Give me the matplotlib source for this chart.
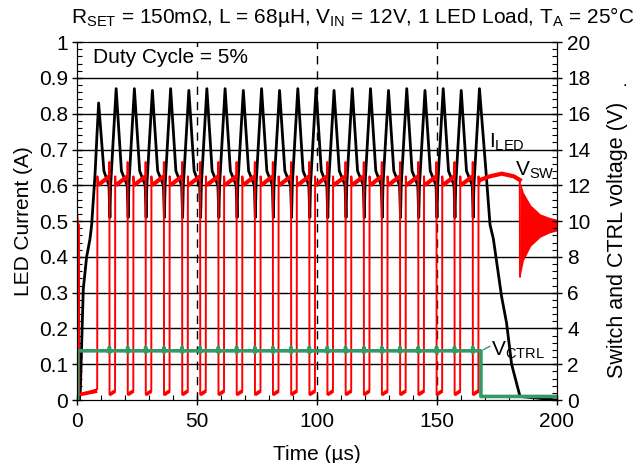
import matplotlib
matplotlib.use("Agg")
import matplotlib.pyplot as plt
from matplotlib.ticker import MultipleLocator, FixedLocator, FixedFormatter

plt.rcParams["font.family"] = ["Liberation Sans", "DejaVu Sans"]
plt.rcParams["mathtext.fontset"] = "custom"
plt.rcParams["mathtext.rm"] = "Liberation Sans"
plt.rcParams["mathtext.it"] = "Liberation Sans:italic"

# switch node edges (µs)
sw_fall = [13.5, 21.1, 28.6, 36.2, 43.8, 51.3, 58.9, 66.5, 74.1, 81.6, 89.2,
           96.8, 104.3, 111.9, 119.5, 127.0, 134.6, 142.2, 149.8, 157.3, 164.9]
sw_rise = [15.9, 23.5, 31.0, 38.6, 46.2, 53.7, 61.3, 68.9, 76.5, 84.0, 91.6,
           99.2, 106.7, 114.3, 121.9, 129.4, 137.0, 144.6, 152.2, 159.7, 167.3]

# LED current (A)
iled_peak = [0.87, 0.87, 0.865, 0.87, 0.865, 0.87, 0.87, 0.865, 0.87, 0.865, 0.87,
             0.87, 0.865, 0.87, 0.87, 0.865, 0.87, 0.865, 0.87, 0.865, 0.87]
iled_start_t = [0.0, 1.0, 1.4, 2.6, 4.0, 5.4, 6.1, 7.5, 8.3, 9.0]
iled_start_v = [0.0, 0.0, 0.03, 0.31, 0.40, 0.45, 0.49, 0.63, 0.74, 0.83]
iled_end_t = [170.4, 172.1, 173.5, 176.9, 179.0, 181.1, 184.6, 200.0]
iled_end_v = [0.64, 0.49, 0.45, 0.29, 0.215, 0.10, 0.01, 0.0]
iled_knee = 0.64
iled_valley = 0.60
iled_dip = 0.51

# switch voltage (V)
vsw_start_t = [0.0, 0.05, 0.3, 0.8, 0.9, 8.4]
vsw_start_v = [0.0, 10.4, 9.9, 9.8, 0.3, 0.6]
vsw_first_rise = 8.5
vsw_high_start = 12.0
vsw_high_end = 12.5
vsw_spike = 13.3
vsw_low_start = 0.3
vsw_low_end = 0.5
vsw_tail_t = [168.0, 172.0, 177.0, 182.0, 184.5]
vsw_tail_v = [12.3, 12.5, 12.65, 12.5, 12.3]
ring_t = [184.6, 186.0, 189.0, 193.0, 197.0, 200.0]
ring_hi = [12.2, 11.6, 10.9, 10.4, 10.2, 10.1]
ring_lo = [6.9, 7.8, 8.6, 9.1, 9.35, 9.45]

# control voltage (V)
vctrl_on_t = 0.3
vctrl_off_t = 168.3
vctrl_high = 2.75
vctrl_low = 0.2

# ---- build the traces from the read points ----
it, iv = list(iled_start_t), list(iled_start_v)
prev_peak = iled_start_t[-1]
for f, r, pk in zip(sw_fall, sw_rise, iled_peak):
    it += [prev_peak + 2.2, f - 0.2, f + 0.2, f + 0.5, r + 0.4]
    iv += [iled_knee, iled_valley, iled_dip, iled_valley, pk]
    prev_peak = r + 0.4
it += iled_end_t
iv += iled_end_v

vt, vv = list(vsw_start_t), list(vsw_start_v)
vt += [vsw_first_rise, vsw_first_rise + 0.2]
vv += [vsw_high_end, vsw_high_start]
for f, r in zip(sw_fall, sw_rise):
    vt += [f - 0.05, f, f + 0.05, r - 0.05, r, r + 0.2]
    vv += [vsw_high_end, vsw_spike, vsw_low_start, vsw_low_end, vsw_high_end, vsw_high_start]
vt += vsw_tail_t + [ring_t[0]]
vv += vsw_tail_v + [ring_lo[0]]

# the flat parts of the switch trace are noisy, so they read as a thicker band
high_starts = [vsw_first_rise + 0.2] + [r + 0.2 for r in sw_rise[:-1]]
low_starts = [0.9] + [f + 0.05 for f in sw_fall]
low_ends = [8.4] + [r - 0.05 for r in sw_rise]

ct = [0.0, vctrl_on_t, vctrl_on_t]
cv = [0.0, 0.0, vctrl_high]
for f in sw_fall:
    ct += [f - 0.05, f, f + 0.05, f + 0.15]
    cv += [vctrl_high, vctrl_high + 0.2, vctrl_high - 0.1, vctrl_high]
ct += [vctrl_off_t, vctrl_off_t, 200.0]
cv += [vctrl_high, vctrl_low, vctrl_low]

fig = plt.figure(figsize=(6.34, 4.63), dpi=100)
ax = fig.add_axes([0.1215, 0.136, 0.757, 0.773])
ax2 = ax.twinx()

ax.plot(it, iv, color="black", lw=2.0)
ax2.plot(vt, vv, color="#ff0000", lw=1.4)
for hs, fe in zip(high_starts, sw_fall):
    ax2.plot([hs, fe - 0.05], [vsw_high_start, vsw_high_end], color="#ff0000", lw=3.0,
             solid_capstyle="butt")
for ls, le in zip(low_starts, low_ends):
    ax2.plot([ls, le], [vsw_low_start, vsw_low_end], color="#ff0000", lw=2.6,
             solid_capstyle="butt")
ax2.plot(vsw_tail_t, vsw_tail_v, color="#ff0000", lw=3.0)
ax2.fill_between(ring_t, ring_lo, ring_hi, color="#ff0000", lw=0)
ax2.plot(ct, cv, color="#339966", lw=2.6)

ax.set_xlim(0, 200)
ax.set_ylim(0, 1)
ax2.set_ylim(0, 20)

ax.yaxis.set_major_locator(FixedLocator([i / 10 for i in range(11)]))
ax.yaxis.set_major_formatter(FixedFormatter(["0", "0.1", "0.2", "0.3", "0.4", "0.5",
                                             "0.6", "0.7", "0.8", "0.9", "1"]))
ax.yaxis.set_minor_locator(MultipleLocator(0.02))
ax.xaxis.set_major_locator(MultipleLocator(50))
ax.xaxis.set_minor_locator(MultipleLocator(10))
ax2.yaxis.set_major_locator(MultipleLocator(2))
ax2.yaxis.set_minor_locator(MultipleLocator(0.4))

for a in (ax, ax2):
    a.tick_params(which="major", direction="inout", length=7, width=1, labelsize=15, colors="black")
    a.tick_params(which="minor", direction="in", length=3.5, width=0.8)
ax.tick_params(axis="y", pad=3)
ax2.tick_params(axis="y", pad=4)
ax.tick_params(axis="x", pad=5)

for yv in [i / 10 for i in range(1, 10)]:
    ax.axhline(yv, color="black", lw=1.0, zorder=0.5)
for xv in (50, 100, 150):
    ax.axvline(xv, color="black", lw=1.0, ls=(0, (6, 5)), zorder=0.5)

ax.set_xlabel("Time (µs)", fontsize=15, labelpad=10)
ax.set_ylabel("LED Current (A)", fontsize=15, labelpad=4)
fig.text(617 / 634, 1 - 240 / 463, "Switch and CTRL voltage (V)", rotation=90,
         ha="center", va="center", fontsize=15.5)
fig.text(625 / 634, 1 - 86 / 463, ".", ha="center", va="baseline", fontsize=12)

fig.text(0.556, 0.963,
         r"$\mathregular{R_{SET}}$ = 150mΩ, L = 68µH, $\mathregular{V_{IN}}$ = 12V, 1 LED Load, $\mathregular{T_A}$ = 25°C",
         ha="center", va="center", fontsize=15)

ax.text(6.5, 0.958, "Duty Cycle = 5%", fontsize=15, va="center", ha="left",
        bbox=dict(facecolor="white", edgecolor="none", pad=0.5), zorder=3)
ax.text(171.5, 0.72, r"$\mathregular{I_{LED}}$", fontsize=15, va="center", ha="left")
ax.text(182.5, 0.642, r"$\mathregular{V_{SW}}$", fontsize=15, va="center", ha="left")
ax.text(172.5, 0.14, r"$\mathregular{V_{CTRL}}$", fontsize=15, va="center", ha="left")
ax2.plot([169.4, 172.0], [2.82, 3.0], color="#339966", lw=1.0)

fig.savefig("out.png", dpi=100)
